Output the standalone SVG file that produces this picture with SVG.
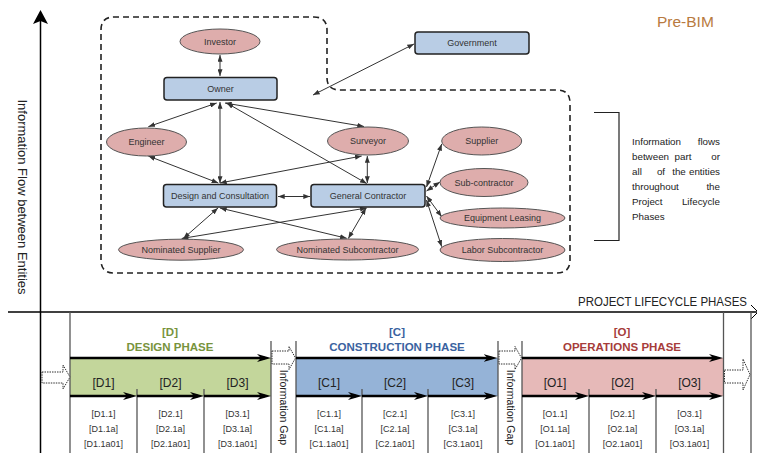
<svg xmlns="http://www.w3.org/2000/svg" width="757" height="453" viewBox="0 0 757 453">
<style>
text{font-family:"Liberation Sans",Arial,sans-serif}
.nt{font-size:9px;fill:#333;text-anchor:middle}
.el{fill:#deadac;stroke:#555;stroke-width:1}
.rc{fill:#b9cde5;stroke:#222;stroke-width:1.5}
.cn{stroke:#333;stroke-width:1;fill:none;marker-start:url(#a);marker-end:url(#a)}
.par{font-size:9.8px;fill:#222}
.ax{stroke:#000;stroke-width:1.5;fill:none}
.vl{stroke:#555;stroke-width:1.3;fill:none}
.thick{stroke:#000;stroke-width:2.5;fill:none;marker-end:url(#s)}
.seg{font-size:12px;fill:#222;text-anchor:middle}
.sub{font-size:9px;fill:#333;text-anchor:middle}
.ph{font-size:11.5px;font-weight:bold;text-anchor:middle}
.blk{fill:#fff;stroke:#333;stroke-width:1;stroke-dasharray:1.5 1}
.gap{font-size:10.5px;fill:#222;text-anchor:middle}
</style>
<defs>
<marker id="a" viewBox="0 0 8 6" refX="8" refY="3" markerWidth="7" markerHeight="5" orient="auto-start-reverse" markerUnits="userSpaceOnUse"><path d="M0,0 L8,3 L0,6 Z" fill="#333"/></marker>
<marker id="s" viewBox="0 0 14 8" refX="8" refY="4" markerWidth="14" markerHeight="8" orient="auto" markerUnits="userSpaceOnUse"><path d="M0,0 L14,4 L0,8 L4,4 Z" fill="#000"/></marker>
</defs>
<rect width="757" height="453" fill="#fff"/>

<!-- Axes -->
<g id="axes">
<line class="ax" x1="40.5" y1="18" x2="40.5" y2="453"/>
<polygon points="40.5,10 48,24 40.5,21 33,24" fill="#000"/>
<line class="ax" x1="8" y1="312" x2="757" y2="312"/>
<polyline points="751,305 758,312 751,319" fill="none" stroke="#000" stroke-width="1"/>
<text x="18" y="197" font-size="13" fill="#222" text-anchor="middle" transform="rotate(90 18 197)">Information Flow between Entities</text>
<text x="578" y="306" font-size="12" fill="#222" textLength="169" lengthAdjust="spacingAndGlyphs">PROJECT LIFECYCLE PHASES</text>
<text x="657" y="27" font-size="15.5" fill="#b87a40">Pre-BIM</text>
</g>

<!-- Dashed boundary -->
<path d="M101,30 Q101,17 114,17 L314,17 Q327,17 327,30 L327,78 Q327,90 340,90 L557,90 Q570,90 570,103 L570,260 Q570,273 557,273 L114,273 Q101,273 101,260 Z" fill="none" stroke="#222" stroke-width="1.6" stroke-dasharray="6 4"/>

<!-- Connectors -->
<g id="connectors">
<line class="cn" x1="220" y1="55" x2="220" y2="76"/>
<line class="cn" x1="216.7" y1="103" x2="148.3" y2="126.7"/>
<line class="cn" x1="225" y1="103" x2="364" y2="126.5"/>
<line class="cn" x1="220" y1="102" x2="220" y2="183"/>
<line class="cn" x1="226.7" y1="103" x2="366.7" y2="183.5"/>
<line class="cn" x1="313" y1="95" x2="414" y2="44"/>
<line class="cn" x1="148.3" y1="156" x2="218.3" y2="183"/>
<line class="cn" x1="361.7" y1="156" x2="220" y2="183"/>
<line class="cn" x1="367.3" y1="156" x2="367.3" y2="183"/>
<line class="cn" x1="278" y1="196.5" x2="310" y2="196.5"/>
<line class="cn" x1="220" y1="208" x2="346.7" y2="238.3"/>
<line class="cn" x1="366.7" y1="208" x2="181.7" y2="238.5"/>
<line class="cn" x1="218" y1="208" x2="183.3" y2="238.5"/>
<line class="cn" x1="366" y1="208" x2="348.3" y2="238.5"/>
<line class="cn" x1="426.5" y1="187" x2="441.7" y2="144"/>
<line class="cn" x1="426.5" y1="191" x2="440" y2="182"/>
<line class="cn" x1="426.5" y1="196" x2="441.7" y2="216.7"/>
<line class="cn" x1="426.5" y1="200" x2="441.7" y2="246.7"/>
</g>

<!-- Nodes -->
<g id="investor"><ellipse class="el" cx="220" cy="41.5" rx="40" ry="12.5"/><text class="nt" x="220" y="44.8">Investor</text></g>
<g id="owner"><rect class="rc" x="164" y="77.5" width="113" height="22.5" rx="3"/><text class="nt" x="220.5" y="92">Owner</text></g>
<g id="government"><rect class="rc" x="415" y="32" width="114" height="22" rx="3"/><text class="nt" x="472" y="46.2">Government</text></g>
<g id="engineer"><ellipse class="el" cx="146.5" cy="142" rx="40" ry="14"/><text class="nt" x="146.5" y="145.3">Engineer</text></g>
<g id="surveyor"><ellipse class="el" cx="368" cy="141" rx="40.5" ry="14"/><text class="nt" x="368" y="144.3">Surveyor</text></g>
<g id="supplier"><ellipse class="el" cx="481.7" cy="141" rx="40" ry="14"/><text class="nt" x="481.7" y="144.3">Supplier</text></g>
<g id="design-consultation"><rect class="rc" x="163.5" y="184.5" width="113" height="22.5" rx="3"/><text class="nt" x="220" y="199">Design and Consultation</text></g>
<g id="general-contractor"><rect class="rc" x="311" y="184.5" width="114" height="22.5" rx="3"/><text class="nt" x="368" y="199">General Contractor</text></g>
<g id="sub-contractor"><ellipse class="el" cx="484" cy="182.5" rx="44" ry="14"/><text class="nt" x="484" y="185.8">Sub-contractor</text></g>
<g id="equipment-leasing"><ellipse class="el" cx="502.5" cy="218" rx="62.5" ry="10"/><text class="nt" x="502.5" y="221.3">Equipment Leasing</text></g>
<g id="nominated-supplier"><ellipse class="el" cx="181" cy="249.7" rx="62.5" ry="10.5"/><text class="nt" x="181" y="253">Nominated Supplier</text></g>
<g id="nominated-subcontractor"><ellipse class="el" cx="347.5" cy="249.5" rx="71" ry="10.5"/><text class="nt" x="347.5" y="252.8">Nominated Subcontractor</text></g>
<g id="labor-subcontractor"><ellipse class="el" cx="502.5" cy="250" rx="62.5" ry="11.5"/><text class="nt" x="502.5" y="253.3">Labor Subcontractor</text></g>

<!-- Bracket and note -->
<g id="note">
<polyline points="594,112.5 619,112.5 619,240.5 594,240.5" fill="none" stroke="#222" stroke-width="1.2"/>
<text class="par" x="632" y="144.5">Information</text><text class="par" x="720" y="144.5" text-anchor="end">flows</text>
<text class="par" x="632" y="159.5">between</text><text class="par" x="683" y="159.5" text-anchor="middle">part</text><text class="par" x="720" y="159.5" text-anchor="end">or</text>
<text class="par" x="632" y="174.5">all</text><text class="par" x="661" y="174.5" text-anchor="middle">of</text><text class="par" x="679" y="174.5" text-anchor="middle">the</text><text class="par" x="720" y="174.5" text-anchor="end">entities</text>
<text class="par" x="632" y="189.5">throughout</text><text class="par" x="720" y="189.5" text-anchor="end">the</text>
<text class="par" x="632" y="204.5">Project</text><text class="par" x="720" y="204.5" text-anchor="end">Lifecycle</text>
<text class="par" x="632" y="219.5">Phases</text>
</g>

<!-- Lifecycle phases -->
<g id="phases">
<rect x="70" y="358" width="201" height="38" fill="#c3d69b"/>
<rect x="296" y="358" width="202" height="38" fill="#95b3d7"/>
<rect x="522" y="358" width="201" height="38" fill="#e6b9b8"/>
<line class="vl" x1="70" y1="312" x2="70" y2="453"/>
<line class="vl" x1="271" y1="341" x2="271" y2="453"/>
<line class="vl" x1="296" y1="341" x2="296" y2="453"/>
<line class="vl" x1="498" y1="341" x2="498" y2="453"/>
<line class="vl" x1="522" y1="341" x2="522" y2="453"/>
<line class="vl" x1="723.5" y1="312" x2="723.5" y2="453"/>
<line class="vl" x1="751" y1="312" x2="751" y2="453"/>
<line class="vl" x1="137" y1="389" x2="137" y2="453"/>
<line class="vl" x1="204" y1="389" x2="204" y2="453"/>
<line class="vl" x1="362" y1="389" x2="362" y2="453"/>
<line class="vl" x1="428" y1="389" x2="428" y2="453"/>
<line class="vl" x1="589" y1="389" x2="589" y2="453"/>
<line class="vl" x1="656" y1="389" x2="656" y2="453"/>

<line class="thick" x1="70" y1="358" x2="265" y2="358"/>
<line class="thick" x1="70" y1="396" x2="131" y2="396"/>
<line class="thick" x1="137" y1="396" x2="198" y2="396"/>
<line class="thick" x1="204" y1="396" x2="265" y2="396"/>
<line class="thick" x1="296" y1="358" x2="491.5" y2="358"/>
<line class="thick" x1="296" y1="396" x2="356" y2="396"/>
<line class="thick" x1="362" y1="396" x2="422" y2="396"/>
<line class="thick" x1="428" y1="396" x2="491.5" y2="396"/>
<line class="thick" x1="522" y1="358" x2="717" y2="358"/>
<line class="thick" x1="522" y1="396" x2="583" y2="396"/>
<line class="thick" x1="589" y1="396" x2="650" y2="396"/>
<line class="thick" x1="656" y1="396" x2="717" y2="396"/>

<path class="blk" d="M42,372 H63 V365 L70,377 L63,389 V383 H42 Z"/>
<path class="blk" d="M272,351 H289 V346.5 L295.5,358 L289,369.5 V364 H272 Z"/>
<path class="blk" d="M499,351 H515 V346.5 L521.5,358 L515,369.5 V364 H499 Z"/>
<path class="blk" d="M724.5,370 H743 V359 L750,374.5 L743,390 V383 H724.5 Z"/>

<text class="gap" x="280" y="407.5" transform="rotate(90 280 407.5)">Information Gap</text>
<text class="gap" x="507" y="407.5" transform="rotate(90 507 407.5)">Information Gap</text>

<text class="ph" x="170" y="336" fill="#77933c">[D]</text>
<text class="ph" x="170" y="351" fill="#77933c">DESIGN PHASE</text>
<text class="ph" x="397" y="336" fill="#3a62a0">[C]</text>
<text class="ph" x="397" y="351" fill="#3a62a0">CONSTRUCTION PHASE</text>
<text class="ph" x="622" y="336" fill="#a63c3a">[O]</text>
<text class="ph" x="622" y="351" fill="#a63c3a">OPERATIONS PHASE</text>

<text class="seg" x="103.5" y="387">[D1]</text>
<text class="seg" x="170.5" y="387">[D2]</text>
<text class="seg" x="237.5" y="387">[D3]</text>
<text class="seg" x="329" y="387">[C1]</text>
<text class="seg" x="395" y="387">[C2]</text>
<text class="seg" x="463" y="387">[C3]</text>
<text class="seg" x="555" y="387">[O1]</text>
<text class="seg" x="622.5" y="387">[O2]</text>
<text class="seg" x="689.5" y="387">[O3]</text>

<text class="sub" x="103.5" y="416.5">[D1.1]</text><text class="sub" x="103.5" y="431.5">[D1.1a]</text><text class="sub" x="103.5" y="446.5">[D1.1a01]</text>
<text class="sub" x="170.5" y="416.5">[D2.1]</text><text class="sub" x="170.5" y="431.5">[D2.1a]</text><text class="sub" x="170.5" y="446.5">[D2.1a01]</text>
<text class="sub" x="237.5" y="416.5">[D3.1]</text><text class="sub" x="237.5" y="431.5">[D3.1a]</text><text class="sub" x="237.5" y="446.5">[D3.1a01]</text>
<text class="sub" x="329" y="416.5">[C1.1]</text><text class="sub" x="329" y="431.5">[C1.1a]</text><text class="sub" x="329" y="446.5">[C1.1a01]</text>
<text class="sub" x="395" y="416.5">[C2.1]</text><text class="sub" x="395" y="431.5">[C2.1a]</text><text class="sub" x="395" y="446.5">[C2.1a01]</text>
<text class="sub" x="463" y="416.5">[C3.1]</text><text class="sub" x="463" y="431.5">[C3.1a]</text><text class="sub" x="463" y="446.5">[C3.1a01]</text>
<text class="sub" x="555" y="416.5">[O1.1]</text><text class="sub" x="555" y="431.5">[O1.1a]</text><text class="sub" x="555" y="446.5">[O1.1a01]</text>
<text class="sub" x="622.5" y="416.5">[O2.1]</text><text class="sub" x="622.5" y="431.5">[O2.1a]</text><text class="sub" x="622.5" y="446.5">[O2.1a01]</text>
<text class="sub" x="689.5" y="416.5">[O3.1]</text><text class="sub" x="689.5" y="431.5">[O3.1a]</text><text class="sub" x="689.5" y="446.5">[O3.1a01]</text>
</g>
</svg>
